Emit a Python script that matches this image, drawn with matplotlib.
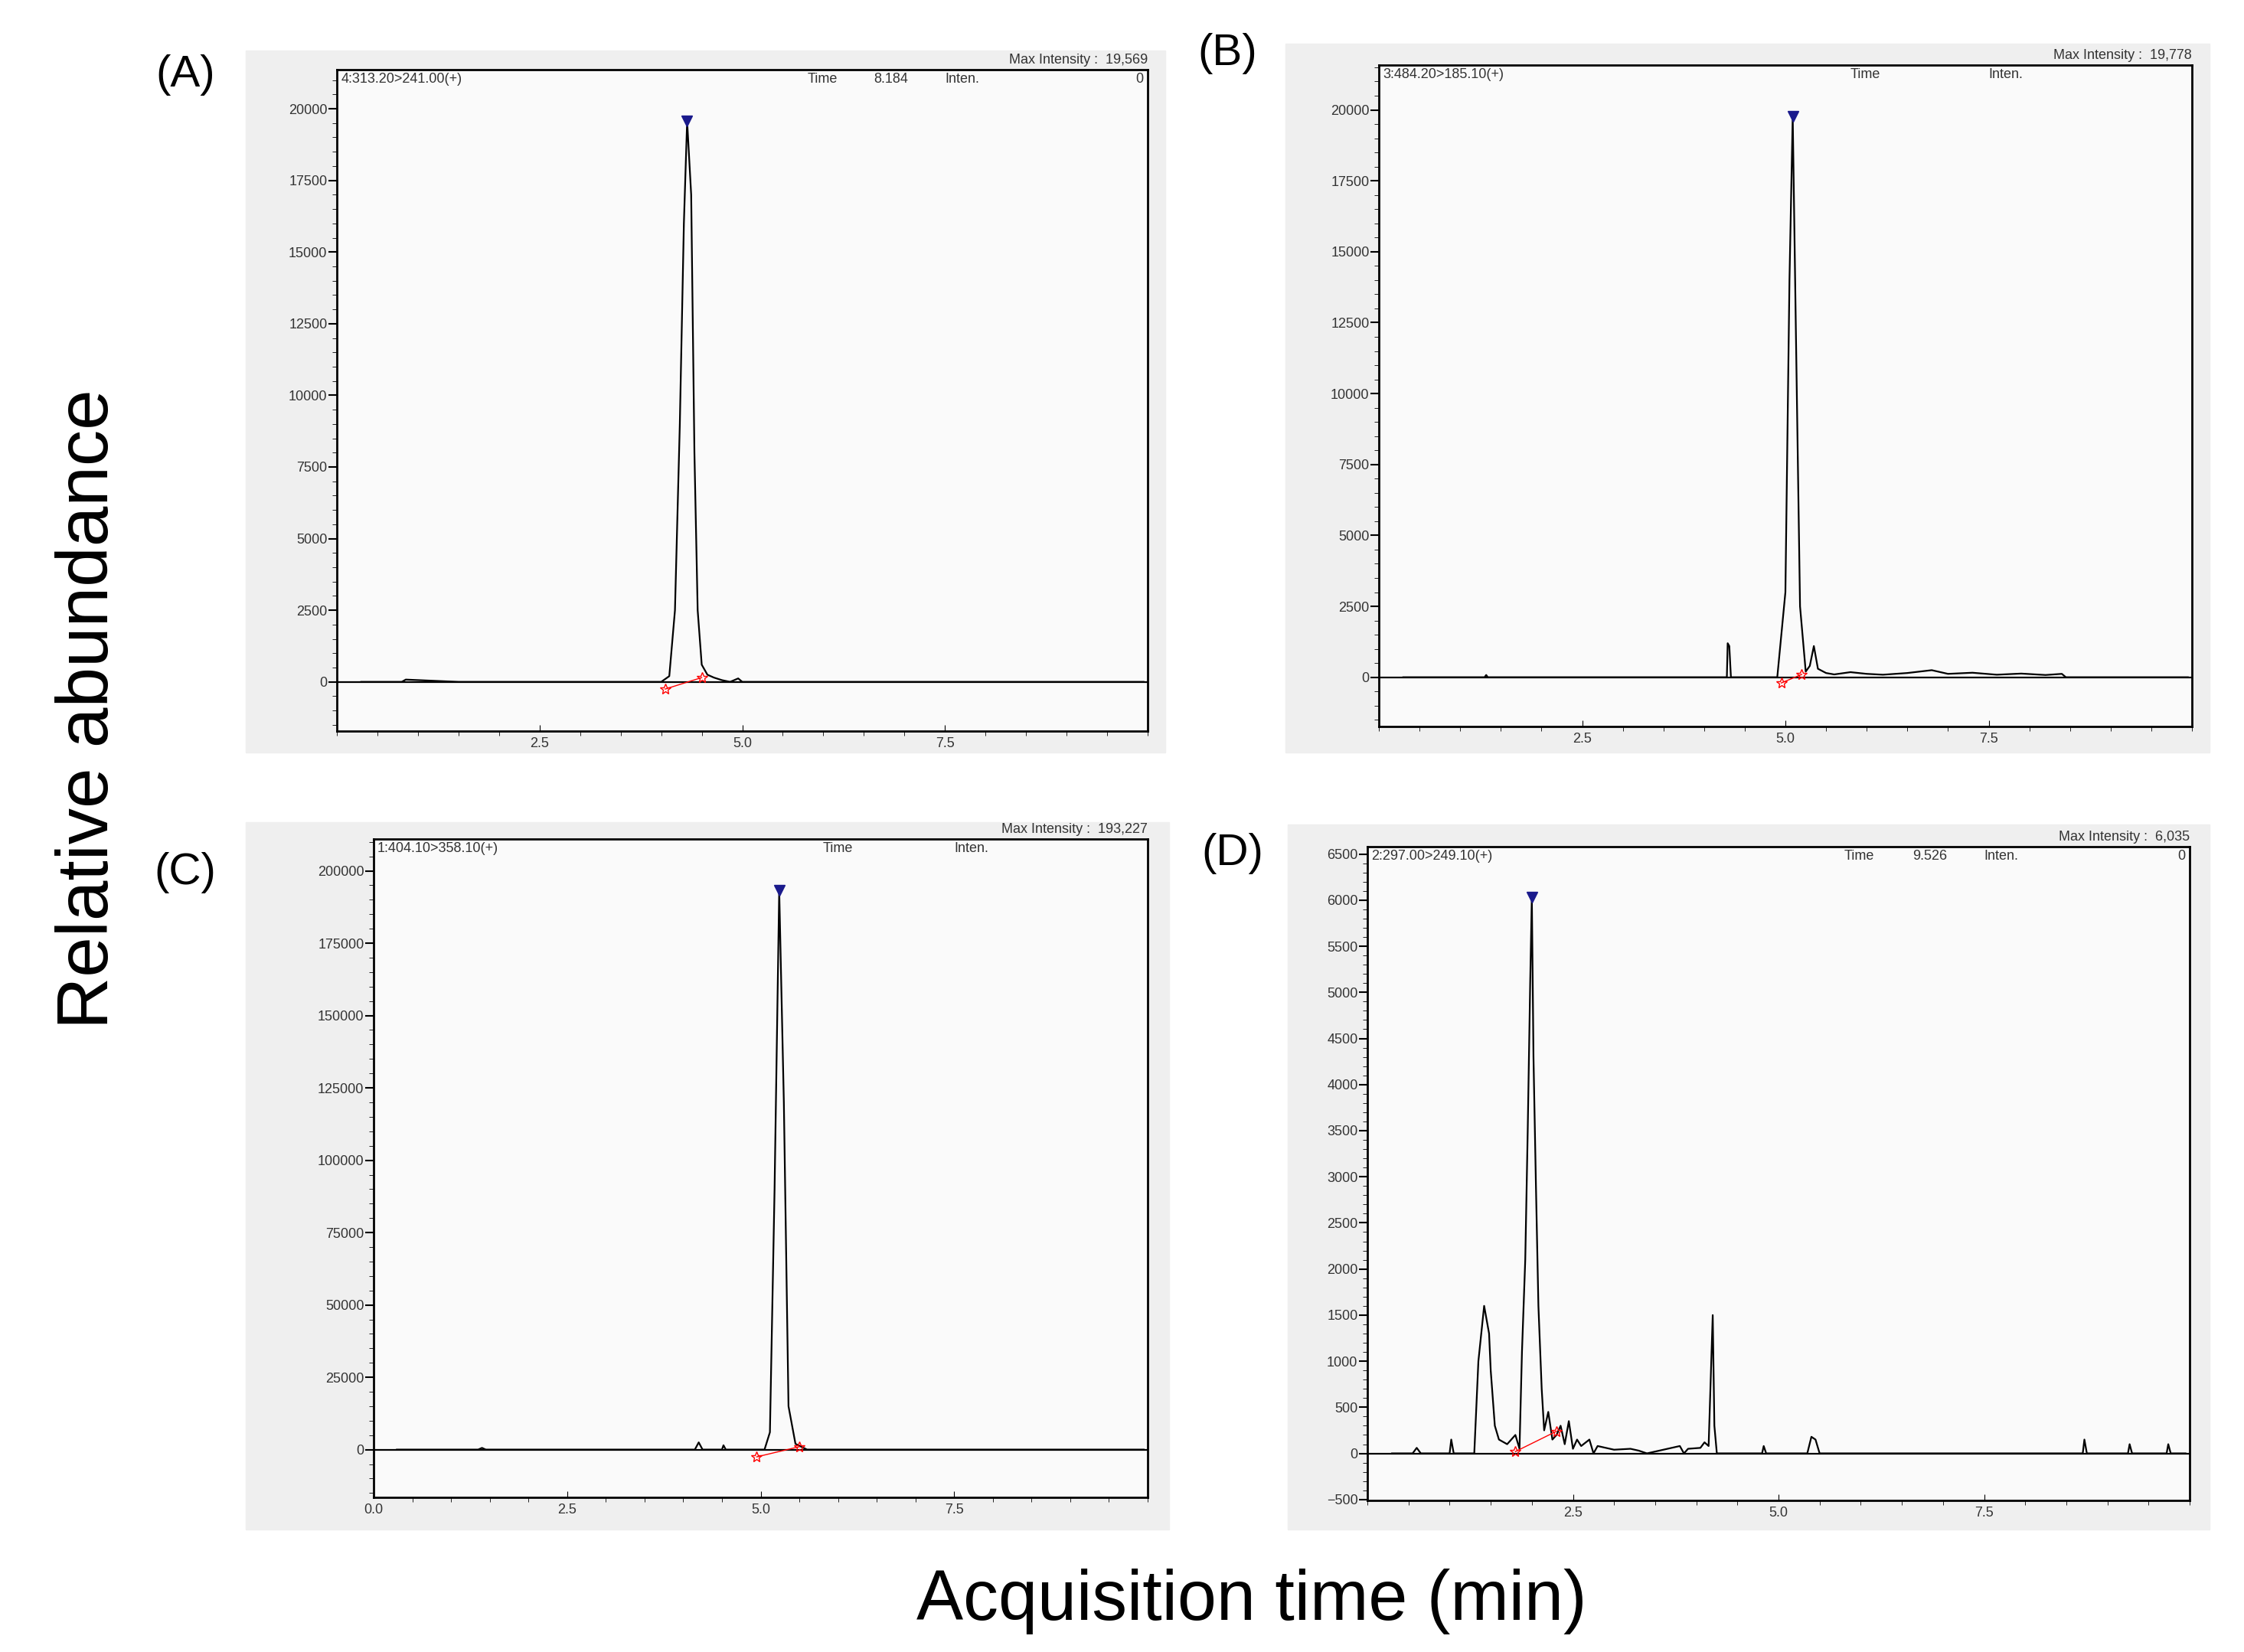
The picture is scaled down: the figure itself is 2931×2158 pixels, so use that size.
import numpy as np
import matplotlib; matplotlib.use("Agg"); import matplotlib.pyplot as plt
from matplotlib.ticker import MultipleLocator
plt.rcParams.update({"font.family":"Liberation Sans","font.size":13})
W,H=2931,2158

# chromatogram traces (time min, intensity)
tA=[0.3,0.8,0.85,1.5,4.0,4.1,4.17,4.23,4.28,4.32,4.37,4.41,4.45,4.5,4.57,4.65,4.75,4.85,4.95,5.0,5.15,9.95]
iA=[0,0,80,0,0,200,2500,9000,16000,19569,17000,8000,2500,600,250,150,60,0,120,0,0,0]
tB=[0.3,1.3,1.32,1.34,4.28,4.29,4.31,4.33,4.9,5.0,5.05,5.09,5.13,5.18,5.25,5.3,5.35,5.4,5.5,5.6,5.8,6.0,6.2,6.5,6.8,7.0,7.3,7.6,7.9,8.2,8.4,8.45,9.95]
iB=[0,0,80,0,0,1200,1100,0,0,3000,14000,19778,12000,2500,200,400,1100,300,150,100,180,120,90,150,250,120,160,90,130,80,120,0,0]
tC=[0.3,1.35,1.4,1.45,4.15,4.2,4.25,4.5,4.52,4.55,5.05,5.12,5.18,5.24,5.3,5.36,5.45,5.6,9.95]
iC=[0,0,600,0,0,2500,0,0,1500,0,0,6000,90000,193227,120000,15000,2000,0,0]
tD=[0.3,0.55,0.6,0.65,1.0,1.02,1.05,1.3,1.35,1.42,1.48,1.5,1.55,1.6,1.7,1.8,1.85,1.88,1.92,1.95,1.98,2.0,2.02,2.05,2.08,2.12,2.15,2.2,2.25,2.3,2.35,2.4,2.45,2.5,2.55,2.6,2.7,2.75,2.8,3.0,3.2,3.3,3.4,3.8,3.85,3.9,4.05,4.1,4.15,4.2,4.22,4.25,4.8,4.82,4.85,5.35,5.4,5.45,5.5,8.7,8.72,8.75,9.25,9.27,9.3,9.72,9.74,9.77,9.95]
iD=[0,0,60,0,0,150,0,0,1000,1600,1300,900,300,150,100,200,50,1100,2100,3500,5100,6035,4300,2900,1600,700,250,450,150,200,300,100,350,50,150,80,150,0,80,40,50,30,0,80,0,50,60,120,80,1500,300,0,0,80,0,0,180,150,0,0,150,0,0,100,0,0,100,0,0]

panels=[("(A)",tA,iA,(440,91,1499,955),(321,66,1522,983),(-1717,21364),2500,"4:313.20>241.00(+)","8.184","0","19,569",[2.5,5.0,7.5],(242,98),[(4.05,-250),(4.5,150)]),
        ("(B)",tB,iB,(1801,85,2863,949),(1679,57,2886,983),(-1735,21580),2500,"3:484.20>185.10(+)","","","19,778",[2.5,5.0,7.5],(1603,70),[(4.95,-200),(5.2,100)]),
        ("(C)",tC,iC,(488,1096,1499,1956),(321,1074,1527,1998),(-16500,211000),25000,"1:404.10>358.10(+)","","","193,227",[0.0,2.5,5.0,7.5],(242,1140),[(4.95,-2500),(5.5,1000)]),
        ("(D)",tD,iD,(1786,1106,2860,1960),(1682,1077,2886,1998),(-510,6580),500,"2:297.00>249.10(+)","9.526","0","6,035",[2.5,5.0,7.5],(1610,1115),[(1.8,20),(2.3,240)])]

fig=plt.figure(figsize=(W/100,H/100),dpi=100)
for lab,t,y,ab,gb,yl,ymaj,name,tm,inten,mx,xt,lp,stars in panels:
    fig.patches.append(plt.Rectangle((gb[0]/W,1-gb[3]/H),(gb[2]-gb[0])/W,(gb[3]-gb[1])/H,transform=fig.transFigure,color="#efefef",zorder=-5))
    ax=fig.add_axes([ab[0]/W,1-ab[3]/H,(ab[2]-ab[0])/W,(ab[3]-ab[1])/H])
    ax.set_facecolor("#fafafa")
    ax.plot(t,y,color="black",lw=1.6)
    ax.axhline(0,color="black",lw=1.6)
    k=int(np.argmax(y))
    ax.plot(t[k],y[k],marker="v",color="#1a1a8c",ms=10)
    sx=[s[0] for s in stars]; sy=[s[1] for s in stars]
    ax.plot(sx,sy,color="red",lw=1.0); ax.plot(sx,sy,"*",color="red",ms=10,mfc="none")
    ax.set_xlim(0,10); ax.set_ylim(*yl)
    ax.set_xticks(xt); ax.set_xticklabels([f"{v:.1f}" for v in xt],fontsize=13,color="#333")
    ax.xaxis.set_minor_locator(MultipleLocator(0.5))
    ax.yaxis.set_major_locator(MultipleLocator(ymaj)); ax.yaxis.set_minor_locator(MultipleLocator(ymaj/5))
    ax.tick_params(axis="y",labelsize=13,labelcolor="#333",length=8,width=1.5,direction="out",pad=1)
    ax.tick_params(axis="x",length=6,direction="in",pad=6)
    ax.tick_params(which="minor",length=4)
    for s in ax.spines.values(): s.set_linewidth(2)
    ax.text(0.005,0.995,name,transform=ax.transAxes,va="top",fontsize=13,color="#333")
    ax.text(0.58,0.995,"Time",transform=ax.transAxes,va="top",fontsize=13,color="#333")
    ax.text(0.705,0.995,tm,transform=ax.transAxes,va="top",ha="right",fontsize=13,color="#333")
    ax.text(0.75,0.995,"Inten.",transform=ax.transAxes,va="top",fontsize=13,color="#333")
    ax.text(0.995,0.995,inten,transform=ax.transAxes,va="top",ha="right",fontsize=13,color="#333")
    ax.text(1.0,1.005,f"Max Intensity :  {mx}",transform=ax.transAxes,va="bottom",ha="right",fontsize=13,color="#333")
    fig.text(lp[0]/W,1-lp[1]/H,lab,fontsize=42,ha="center",va="center")

fig.text(117/W,1-926/H,"Relative abundance",rotation=90,fontsize=68,ha="center",va="center")
fig.text(1635/W,1-2092/H,"Acquisition time (min)",fontsize=66,ha="center",va="center")
fig.savefig("out.png",dpi=100,facecolor="white")
